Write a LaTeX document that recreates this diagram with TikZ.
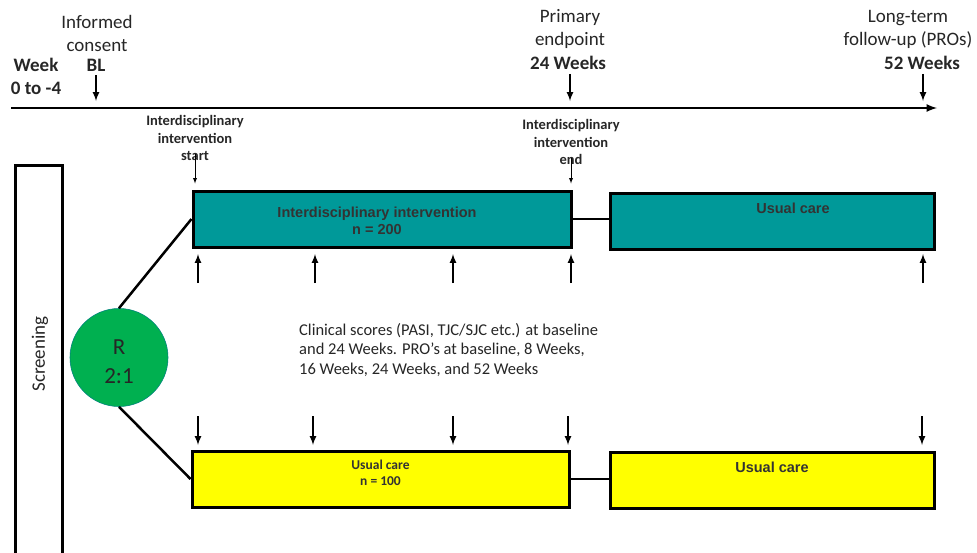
\documentclass[tikz,border=0pt]{standalone}
\usepackage{fontspec}
\setmainfont{Carlito}
\newfontfamily\arialfont{Liberation Sans}
\usetikzlibrary{positioning,shapes,arrows}
\definecolor{armteal}{HTML}{009999}
\definecolor{armyellow}{HTML}{FFFF00}
\definecolor{randgreen}{HTML}{00B050}
\definecolor{boxtext}{HTML}{333333}
\definecolor{plaintext}{HTML}{262626}

\begin{document}
\begin{tikzpicture}[
			      x=1pt, y=-1pt,
			      every node/.style={font=\fontsize{19}{23}\selectfont, inner sep=0pt, text=plaintext},
			      head/.style={align=center},
			      headb/.style={align=center, font=\fontsize{19}{23}\selectfont\bfseries},
			      note/.style={align=center, font=\fontsize{14.5}{17.5}\selectfont\bfseries},
			      tick/.style={-latex, line width=2pt},
			      thintick/.style={-latex, line width=0.9pt},
			      link/.style={line width=2.5pt},
			      armfont/.style={text=boxtext, font=\arialfont\fontsize{14.5}{16.5}\selectfont\bfseries},
			      armbox/.style={
					      draw,
					      line width=3pt,
					      align=center,
					      minimum height=56
				      }
		      ]
		      \clip (0,0) rectangle (977,552);

		      % timeline
		      \coordinate (tl0) at (11,108);
		      \coordinate (tl1) at (937,108);
		      \draw[-latex, line width=2.5pt] (tl0) -- (tl1);

		      \node[headb] (week) at (36,76) {Week\\0 to -4};
		      \node[head] (consent) at (97,33) {Informed\\consent};
		      \node[headb] (bl) at (96,65) {BL};
		      \node[head] (primary) at (570,29) {Primary\\endpoint};
		      \node[headb] (wk24) at (568,63) {24 Weeks};
		      \node[head] (longterm) at (908,29) {Long-term\\follow-up (PROs)};
		      \node[headb] (wk52) at (922,63) {52 Weeks};

		      \coordinate (blend) at (96,101);
		      \coordinate (wk24end) at (570,101);
		      \coordinate (wk52end) at (923,101);
		      \draw[tick] ([xshift=0pt,yshift=-4pt]bl.south) -- (blend);
		      \draw[tick] ([xshift=2pt,yshift=-4pt]wk24.south) -- (wk24end);
		      \draw[tick] ([xshift=1pt,yshift=-4pt]wk52.south) -- (wk52end);

		      \node[note] (ivstart) at (195,138) {Interdisciplinary\\intervention\\start};
		      \node[note] (ivend) at (571,142) {Interdisciplinary\\intervention\\end};

		      % arms
		      \node[armbox, fill=armteal, minimum width=378,
				      label={[armfont, align=center, xshift=-5pt, yshift=-2pt]center:Interdisciplinary intervention\\n = 200}] (iv) at (382,219) {};
		      \node[armbox, fill=armteal, minimum width=324,
				      label={[armfont, anchor=north, xshift=21pt, yshift=-11pt]north:Usual care}] (ucteal) at (772,221) {};
		      \node[armbox, fill=armyellow, minimum width=377,
				      label={[yshift=6pt, align=center, text=boxtext,
								      font=\fontsize{13.5}{16}\selectfont\bfseries]center:Usual care\\n = 100}] (uc) at (380.5,479) {};
		      \node[armbox, fill=armyellow, minimum width=324,
				      label={[armfont, anchor=north, yshift=-11pt]north:Usual care}] (ucyellow) at (772,480) {};

		      \draw[thintick, shorten >=6pt] ([yshift=7pt]ivstart.south) -- (ivstart.south |- iv.north);
		      \draw[thintick, shorten >=6pt] ([yshift=7pt]ivend.south) -- (ivend.south |- iv.north);

		      % screening and randomisation
		      \node[draw, line width=3pt, minimum width=47, minimum height=410] (screen) at (38.5,370) {};
		      \node[rotate=90] (screentxt) at (40,354) {Screening};
		      \node[circle, fill=randgreen, draw=randgreen!75!blue, line width=0.6pt, minimum size=98,
			      label={[align=center, yshift=-4pt, font=\fontsize{23}{29}\selectfont]center:R\\2:1}] (rand) at (119,357.5) {};

		      \draw[link] (rand.north) -- (iv.west);
		      \draw[link] (rand.south) -- (uc.west);
		      \draw[link] (iv.east) -- (iv.east -| ucteal.west);
		      \draw[link] (uc.east) -- (uc.east -| ucyellow.west);

		      % assessments
		      \foreach \x [count=\i] in {198,315,453,571,923} {
				      \coordinate (up\i) at (\x,283);
				      \coordinate (upend\i) at (\x,254);
				      \draw[tick] (up\i) -- (upend\i);
			      }
		      \foreach \x [count=\i] in {198,313,453,568,922} {
				      \coordinate (down\i) at (\x,416);
				      \coordinate (downend\i) at (\x,445);
				      \draw[tick] (down\i) -- (downend\i);
			      }

		      \node[align=left, anchor=west, font=\fontsize{16.5}{19.5}\selectfont] (scores) at (299,350)
		      {Clinical scores (PASI, TJC/SJC etc.) at baseline\\and 24 Weeks. PRO’s at baseline, 8 Weeks,\\16 Weeks, 24 Weeks, and 52 Weeks};
	      \end{tikzpicture}
\end{document}
